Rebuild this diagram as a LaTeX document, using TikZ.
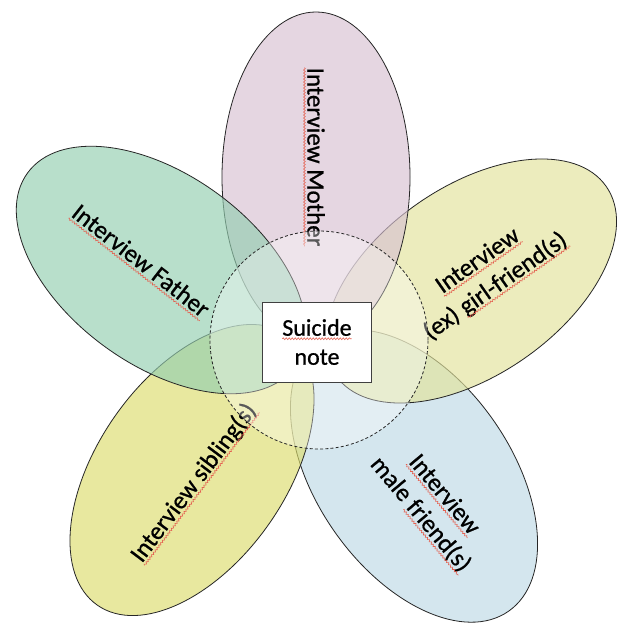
\documentclass[tikz,border=0pt]{standalone}
\usepackage{fontspec}
\setmainfont{Carlito}[RawFeature={embolden=0.8}]
\usetikzlibrary{shapes.geometric, decorations.pathmorphing}
\definecolor{mothercol}{RGB}{216,193,210}
\definecolor{fathercol}{RGB}{147,206,176}
\definecolor{girlcol}{RGB}{226,227,155}
\definecolor{siblingcol}{RGB}{220,221,109}
\definecolor{malecol}{RGB}{189,217,229}
\definecolor{squig}{RGB}{228,96,80}
\tikzset{
	petal/.style={ellipse, draw=black!85, line width=0.8pt, fill opacity=0.65, minimum width=330pt, minimum height=188pt, inner sep=0pt},
	petaltext/.style={font=\fontsize{25}{31}\selectfont, align=center, inner sep=0pt},
	squiggle/.style={draw=squig, line width=0.6pt, decorate, decoration={snake, segment length=3pt, amplitude=0.9pt}}
}
\newcommand\misspelt[1]{\tikz[baseline=(w.base)]{\node[inner sep=0pt, outer sep=0pt, minimum size=0pt, draw=none, fill=none] (w) {#1}; \draw[squiggle] ([yshift=-3pt]w.base west) -- ([yshift=-3pt]w.base east);}}
\begin{document}
\begin{tikzpicture}[
		x=1pt, y=1pt,
		core/.style={
			circle,
			draw=black!85,
			dash pattern=on 3pt off 2.2pt,
			line width=0.8pt,
			fill=white,
			fill opacity=0.35,
			minimum size=218pt,
			inner sep=0pt
		},
		notebox/.style={
			draw=black!75,
			fill=white,
			line width=0.9pt,
			minimum width=109pt,
			minimum height=80pt,
			align=center,
			font=\fontsize{24}{29}\selectfont
		}
		]
		
		\fill[white] (0,0) rectangle (628,625);
		\useasboundingbox (0,0) rectangle (628,625);
		
		\node[petal, fill=malecol, rotate=-55, minimum height=194pt] (male) at (414,149) {};
		\node[petal, fill=siblingcol, rotate=55] (sibling) at (192,155) {};
		\node[petal, fill=girlcol, rotate=35] (girl) at (471,344) {};
		\node[petal, fill=mothercol, rotate=90] (mother) at (316,448) {};
		\node[petal, fill=fathercol, rotate=-36, minimum height=190pt] (father) at (161,355) {};
		
		\node[petaltext, rotate=-90] (mothertext) at (314,468) {\misspelt{Interview Mother}};
		\node[petaltext, rotate=-38] (fathertext) at (140,363) {\misspelt{Interview Father}};
		\node[petaltext, rotate=35] (girltext) at (487,351) {\misspelt{Interview}\\(ex) \misspelt{girl-friend(s)}};
		\node[petaltext, rotate=53] (siblingtext) at (194,142) {\misspelt{Interview sibling(s)}};
		\node[petaltext, rotate=-50] (maletext) at (432,120) {\misspelt{Interview}\\male \misspelt{friend(s)}};
		
		\node[core] (hub) at (319,285) {};
		\node[notebox] (note) at (317,283) {\misspelt{Suicide}\\note};
		
	\end{tikzpicture}
\end{document}
